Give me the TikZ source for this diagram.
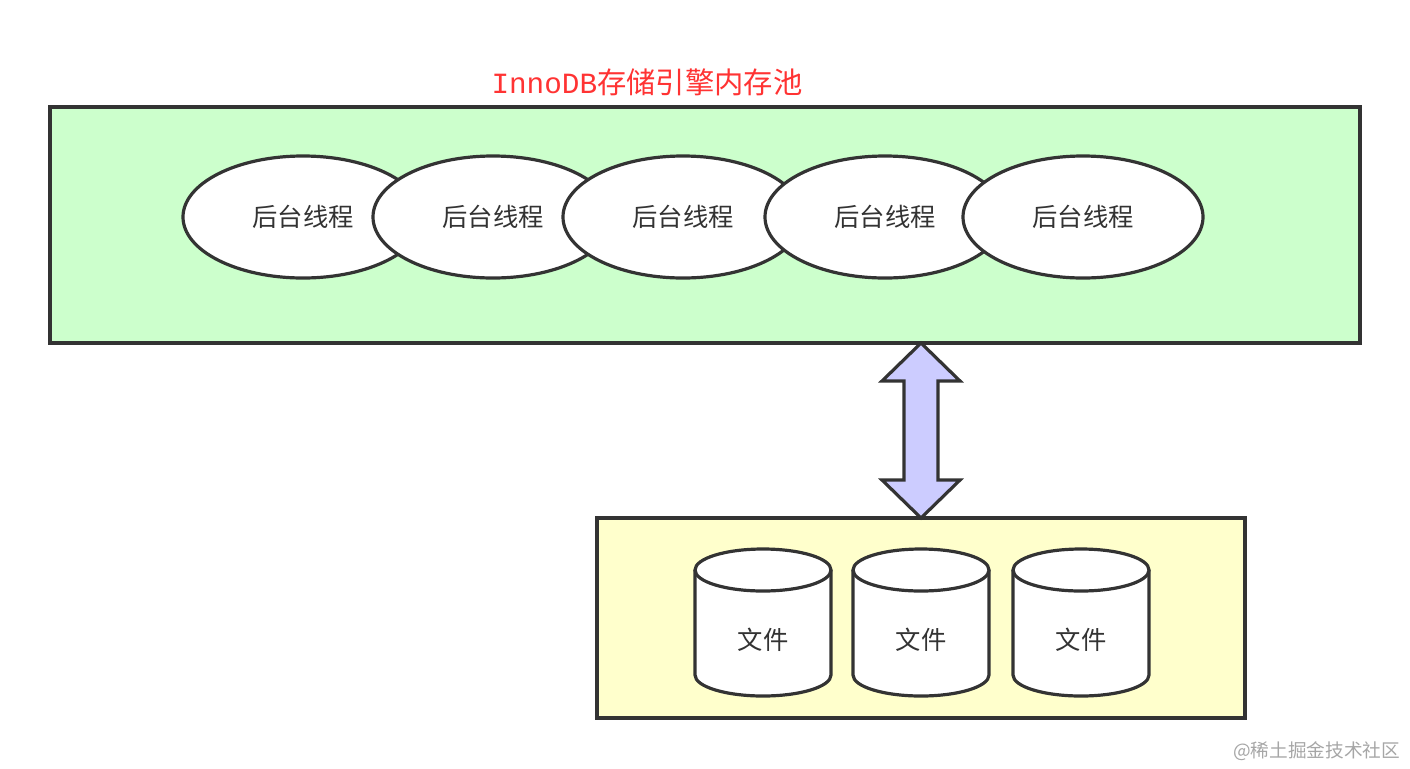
\documentclass[tikz,border=0pt]{standalone}
\usepackage{fontspec}
\setmainfont{Noto Sans CJK SC}
\newfontfamily\cjk{Noto Sans CJK SC}
\newfontfamily\mono{Liberation Mono}
\usetikzlibrary{shapes.geometric}
\definecolor{ln}{HTML}{333333}
\definecolor{gfill}{HTML}{CCFFCC}
\definecolor{yfill}{HTML}{FFFFCC}
\definecolor{afill}{HTML}{CCCCFF}
\definecolor{tred}{HTML}{FF3333}
\begin{document}
\begin{tikzpicture}[x=0.75pt,y=-0.75pt,
  box/.style={draw=ln,line width=2.4pt},
  th/.style={ellipse,draw=ln,line width=2.4pt,fill=white,minimum width=240*0.75pt,minimum height=122*0.75pt,inner sep=0pt,font=\fontsize{19}{22}\selectfont,text=ln},
  cyl/.style={draw=ln,line width=2.4pt,fill=white},
  lbl/.style={font=\fontsize{19}{22}\selectfont,text=ln}]
\useasboundingbox (0,0) rectangle (1410,768);
\draw[box,fill=gfill] (50,107) rectangle (1360,343);
\node[font=\fontsize{22}{24}\selectfont,text=tred] (title) at (647,82) {{\mono InnoDB}存储引擎内存池};
\foreach \i/\x in {1/303,2/493,3/683,4/885,5/1083}{
  \node[th] (t\i) at (\x,217) {后台线程};
}
\draw[box,fill=yfill] (597,518) rectangle (1245,718);
\draw[line width=2.4pt,draw=ln,fill=afill,line join=miter]
  (921,343) -- (960,381) -- (938,381) -- (938,480) -- (960,480) -- (921,518)
  -- (882,480) -- (904,480) -- (904,381) -- (882,381) -- cycle;
\foreach \i/\x in {1/763,2/921,3/1081}{
  \draw[cyl] (\x-68,570) -- (\x-68,675) arc[start angle=180,end angle=0,x radius=68,y radius=21] -- (\x+68,570);
  \draw[cyl] (\x,570) ellipse[x radius=68,y radius=21];
  \node[lbl] (f\i) at (\x,640) {文件};
}
\node[font=\fontsize{14}{16}\selectfont,text=gray!70,anchor=east] (wm) at (1405,751) {@稀土掘金技术社区};
\end{tikzpicture}
\end{document}
